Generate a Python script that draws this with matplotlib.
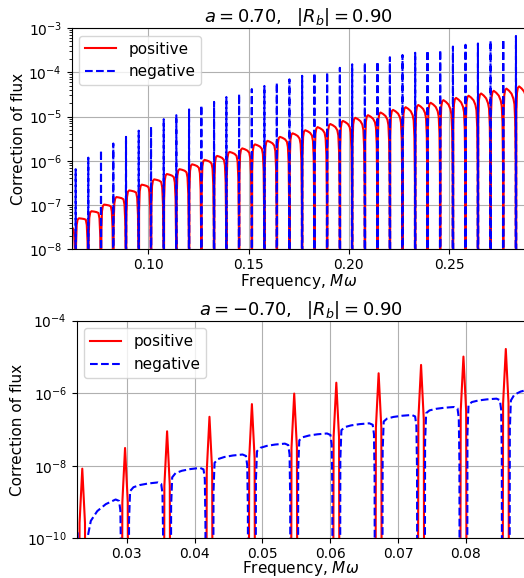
import numpy as np
import matplotlib.pyplot as plt

# ---------------- a = 0.70 (top panel) ----------------
# resonance frequencies (M omega) where the blue spikes sit
res_top = [0.06377, 0.07006, 0.07640, 0.08253, 0.08887, 0.09521, 0.10135, 0.10768,
           0.11397, 0.12031, 0.12645, 0.13278, 0.13892, 0.14526, 0.15160, 0.15788,
           0.16407, 0.17036, 0.17670, 0.18283, 0.18917, 0.19551, 0.20165, 0.20798,
           0.21427, 0.22046, 0.22675, 0.23308, 0.23922, 0.24556, 0.25190, 0.25818,
           0.26437, 0.27066, 0.27700, 0.28333]
# log10 of the negative (blue) spike tops
neg_peak_top = [-6.19, -5.93, -5.76, -5.61, -5.46, -5.32, -5.23, -5.06, -4.97, -4.84,
                -4.75, -4.67, -4.56, -4.49, -4.38, -4.31, -4.24, -4.16, -4.08, -4.02,
                -4.00, -3.90, -3.82, -3.78, -3.76, -3.66, -3.61, -3.56, -3.51, -3.50,
                -3.42, -3.38, -3.35, -3.29, -3.26, -3.18]
# log10 of the positive (red) arch maxima, one before the first resonance .. one after the last
pos_arch_top = [-7.50, -7.30, -7.14, -6.99, -6.82, -6.67, -6.54, -6.42, -6.30, -6.19,
                -6.08, -5.98, -5.89, -5.80, -5.72, -5.63, -5.55, -5.46, -5.38, -5.31,
                -5.24, -5.17, -5.10, -5.03, -4.97, -4.91, -4.85, -4.79, -4.74, -4.69,
                -4.63, -4.58, -4.53, -4.48, -4.42, -4.37, -4.32]
# how much each red arch has sagged (dex) before it drops into the next resonance
pos_arch_tilt = [0.03, 0.03, 0.04, 0.04, 0.05, 0.05, 0.06, 0.06, 0.07, 0.07,
                 0.08, 0.08, 0.09, 0.09, 0.10, 0.10, 0.11, 0.11, 0.12, 0.12,
                 0.13, 0.14, 0.14, 0.15, 0.16, 0.16, 0.17, 0.18, 0.18, 0.19,
                 0.20, 0.20, 0.21, 0.22, 0.22, 0.23, 0.24]

# ---------------- a = -0.70 (bottom panel) ----------------
res_bot = [0.02344, 0.02975, 0.03595, 0.04220, 0.04846, 0.05470, 0.06091, 0.06715,
           0.07341, 0.07966, 0.08591]
pos_peak_bot = [-8.08, -7.51, -7.05, -6.65, -6.30, -6.01, -5.71, -5.45, -5.22, -4.99, -4.78]
# blue arches: level just after the dip and the maximum, one before first resonance .. one after last
neg_arch_start = [-10.0, -10.0, -8.70, -8.32, -7.92, -7.60, -7.30, -7.02, -6.78, -6.55, -6.32, -6.20]
neg_arch_top = [-9.55, -8.93, -8.46, -8.06, -7.69, -7.39, -7.11, -6.83, -6.60, -6.38, -6.15, -5.85]

# shape of one period, as fraction of the spacing between two resonances
red_arch_t = [0.0, 0.03, 0.08, 0.15, 0.25, 0.45, 0.65, 0.8, 0.88, 0.94, 0.98, 1.0]
blue_arch_t = [0.085, 0.095, 0.12, 0.2, 0.35, 0.55, 0.78, 0.86, 0.89, 0.905, 0.915]

LOW = -16.0


def edges_of(res):
    res = np.asarray(res)
    return np.concatenate([[res[0] - (res[1] - res[0])], res, [res[-1] + (res[-1] - res[-2])]])


# top: red arches
ed = edges_of(res_top)
xr1, yr1 = [], []
for k in range(len(pos_arch_top)):
    xa, xb = ed[k], ed[k + 1]
    top = pos_arch_top[k]
    tilt = pos_arch_tilt[k]
    end = top - tilt
    logs = [LOW, top - 0.6, top - 0.15, top - 0.03, top, top - 0.2 * tilt,
            top - 0.5 * tilt, end, end - 0.12, end - 0.5, end - 1.5, LOW]
    for t, l in zip(red_arch_t, logs):
        xr1.append(xa + t * (xb - xa))
        yr1.append(10 ** l)

# top: blue spikes
w = 0.0004
xb1, yb1 = [ed[0]], [10 ** LOW]
for xc, pk in zip(res_top, neg_peak_top):
    xb1 += [xc - w, xc, xc + w]
    yb1 += [10 ** LOW, 10 ** pk, 10 ** LOW]
xb1.append(ed[-1])
yb1.append(10 ** LOW)

# bottom: red spikes
ed2 = edges_of(res_bot)
xr2, yr2 = [ed2[0]], [10 ** LOW]
for xc, pk in zip(res_bot, pos_peak_bot):
    xr2 += [xc - 0.0005, xc - 0.0004, xc, xc + 0.0004, xc + 0.0005]
    yr2 += [10 ** LOW, 10 ** (pk - 1.5), 10 ** pk, 10 ** (pk - 1.5), 10 ** LOW]
xr2.append(ed2[-1])
yr2.append(10 ** LOW)

# bottom: blue arches
xb2, yb2 = [], []
for k in range(len(neg_arch_top)):
    xa, xb = ed2[k], ed2[k + 1]
    top = neg_arch_top[k]
    st = neg_arch_start[k]
    logs = [LOW, st - 0.8, st, st + 0.45 * (top - st), st + 0.7 * (top - st),
            st + 0.88 * (top - st), top, top - 0.04, top - 0.3, top - 1.5, LOW]
    for t, l in zip(blue_arch_t, logs):
        xb2.append(xa + t * (xb - xa))
        yb2.append(10 ** l)

fig = plt.figure(figsize=(5.24, 5.78), dpi=100)

ax1 = fig.add_axes([0.1368, 0.5687, 0.8645, 0.3829])
ax1.plot(xr1, yr1, 'r-', label='positive')
ax1.plot(xb1, yb1, 'b--', label='negative')
ax1.set_yscale('log')
ax1.set_xlim(0.06178, 0.28768)
ax1.set_ylim(1e-8, 1e-3)
ax1.grid(True)
ax1.legend(loc='upper left', fontsize=11)
ax1.tick_params(axis='x', pad=2.5)
ax1.set_xlabel(r'Frequency, $M\omega$', fontsize=11, labelpad=0)
ax1.set_ylabel('Correction of flux', fontsize=11, labelpad=2)
ax1.set_title(r'$a=0.70,\ \ |R_b|=0.90$', fontsize=13, pad=3)

ax2 = fig.add_axes([0.1464, 0.0687, 0.8555, 0.3765])
ax2.plot(xr2, yr2, 'r-', label='positive')
ax2.plot(xb2, yb2, 'b--', label='negative')
ax2.set_yscale('log')
ax2.set_xlim(0.02262, 0.08874)
ax2.set_ylim(1e-10, 1e-4)
ax2.set_yticks([1e-10, 1e-8, 1e-6, 1e-4])
ax2.minorticks_off()
ax2.grid(True)
ax2.legend(loc='upper left', fontsize=11)
ax2.tick_params(axis='x', pad=2.5)
ax2.set_xlabel(r'Frequency, $M\omega$', fontsize=11, labelpad=-1)
ax2.set_ylabel('Correction of flux', fontsize=11, labelpad=2)
ax2.set_title(r'$a=-0.70,\ \ |R_b|=0.90$', fontsize=13, pad=3)

fig.savefig('out.png', dpi=100)
